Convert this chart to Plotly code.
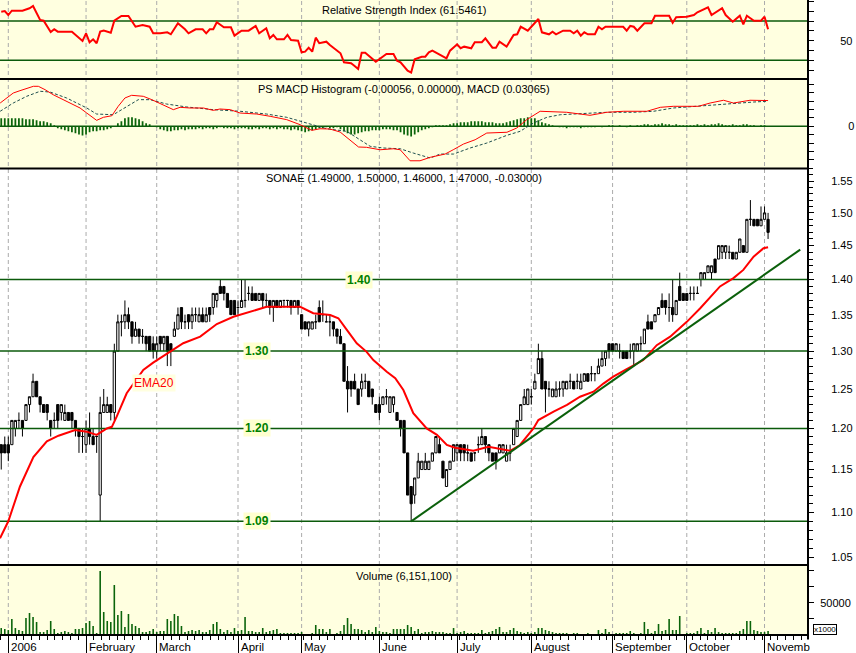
import numpy as np
import plotly.graph_objects as go

# ---------------- DATA ----------------
bar_index = list(range(-2, 216))   # trading-day index, 0 = first session of 2006

opens = [
 1.18,1.18,1.18,1.18,1.20,1.21,1.21,1.21,1.23,1.24,1.26,1.24,1.23,1.23,1.21,1.21,1.23,1.22,1.21,1.22,1.22,1.21,1.20,1.19,
 1.18,1.20,1.19,1.19,1.12,1.22,1.22,1.23,1.22,1.30,1.34,1.34,1.35,1.34,1.32,1.33,1.32,1.32,1.32,1.31,
 1.30,1.32,1.31,1.32,1.31,1.32,1.33,1.36,1.34,1.35,1.34,1.35,1.34,1.35,1.34,1.36,1.36,1.37,1.39,1.39,1.38,1.37,1.37,
 1.36,1.36,1.37,1.38,1.38,1.38,1.37,1.38,1.37,1.37,1.36,1.37,1.36,1.37,1.37,1.37,1.36,1.37,
 1.35,1.34,1.33,1.33,1.34,1.36,1.35,1.34,1.34,1.34,1.33,1.32,1.31,1.26,1.26,1.26,1.25,1.25,1.26,1.26,1.25,1.23,
 1.23,1.23,1.24,1.22,1.23,1.22,1.21,1.21,1.17,1.13,1.12,1.14,1.15,1.15,1.15,1.16,1.17,1.18,1.16,1.13,1.15,1.16,
 1.17,1.18,1.18,1.17,1.17,1.17,1.18,1.18,1.19,1.18,1.17,1.17,1.17,1.17,1.16,1.17,1.18,1.19,1.21,1.23,1.23,
 1.24,1.25,1.27,1.29,1.26,1.25,1.24,1.24,1.25,1.25,1.25,1.26,1.26,1.26,1.25,1.26,1.27,1.27,1.27,1.27,1.28,1.29,1.31,
 1.31,1.30,1.30,1.30,1.30,1.30,1.30,1.30,1.31,1.31,1.34,1.34,1.34,1.35,1.37,1.37,1.36,1.36,1.35,1.39,1.38,
 1.38,1.38,1.38,1.38,1.40,1.40,1.41,1.41,1.43,1.43,1.44,1.44,1.44,1.44,1.43,1.44,1.45,1.44,1.49,1.49,1.49,1.48,
 1.49,1.49]
highs = [
 1.18,1.19,1.19,1.21,1.21,1.22,1.21,1.23,1.24,1.27,1.26,1.24,1.23,1.23,1.21,1.22,1.23,1.23,1.23,1.22,1.22,1.21,1.20,1.20,
 1.21,1.22,1.20,1.19,1.24,1.25,1.24,1.23,1.31,1.35,1.35,1.37,1.36,1.34,1.34,1.33,1.33,1.32,1.32,1.32,
 1.32,1.32,1.32,1.32,1.31,1.34,1.36,1.36,1.35,1.35,1.36,1.36,1.36,1.36,1.36,1.36,1.38,1.38,1.40,1.39,1.38,1.37,1.37,
 1.37,1.40,1.40,1.39,1.39,1.38,1.38,1.38,1.38,1.37,1.37,1.37,1.37,1.37,1.37,1.37,1.37,1.37,
 1.35,1.34,1.34,1.34,1.35,1.37,1.37,1.35,1.35,1.34,1.33,1.33,1.31,1.28,1.26,1.27,1.25,1.27,1.27,1.26,1.25,1.23,
 1.24,1.24,1.25,1.24,1.24,1.22,1.21,1.21,1.17,1.13,1.14,1.17,1.16,1.17,1.16,1.17,1.19,1.19,1.16,1.15,1.16,1.18,
 1.18,1.18,1.18,1.18,1.17,1.17,1.19,1.20,1.19,1.18,1.17,1.17,1.18,1.18,1.18,1.18,1.20,1.21,1.23,1.25,1.25,
 1.25,1.27,1.31,1.30,1.26,1.26,1.25,1.26,1.26,1.26,1.26,1.27,1.26,1.27,1.27,1.27,1.27,1.28,1.27,1.29,1.30,1.30,1.31,
 1.31,1.31,1.31,1.30,1.30,1.31,1.31,1.31,1.32,1.33,1.35,1.34,1.35,1.36,1.38,1.37,1.38,1.40,1.37,1.41,1.38,
 1.38,1.39,1.39,1.39,1.41,1.41,1.42,1.42,1.43,1.45,1.45,1.45,1.45,1.44,1.44,1.46,1.45,1.49,1.52,1.49,1.49,1.51,
 1.51,1.50]
lows = [
 1.15,1.17,1.16,1.18,1.19,1.20,1.19,1.21,1.22,1.24,1.24,1.22,1.22,1.21,1.19,1.20,1.20,1.21,1.21,1.21,1.20,1.19,1.17,1.17,
 1.17,1.18,1.18,1.17,1.09,1.22,1.22,1.21,1.21,1.30,1.32,1.33,1.33,1.31,1.32,1.31,1.31,1.30,1.30,1.29,
 1.29,1.30,1.30,1.28,1.28,1.32,1.33,1.33,1.33,1.33,1.33,1.34,1.34,1.34,1.34,1.34,1.35,1.36,1.38,1.37,1.36,1.35,1.35,
 1.35,1.36,1.36,1.37,1.37,1.37,1.37,1.36,1.36,1.35,1.34,1.36,1.36,1.36,1.36,1.35,1.36,1.35,
 1.33,1.33,1.32,1.33,1.33,1.34,1.34,1.34,1.32,1.32,1.31,1.31,1.26,1.22,1.24,1.25,1.23,1.24,1.25,1.24,1.23,1.22,
 1.21,1.23,1.23,1.22,1.22,1.21,1.19,1.17,1.12,1.09,1.11,1.14,1.15,1.15,1.15,1.16,1.17,1.17,1.14,1.13,1.15,1.16,
 1.16,1.16,1.16,1.16,1.16,1.16,1.17,1.18,1.17,1.16,1.16,1.15,1.17,1.17,1.16,1.16,1.18,1.19,1.21,1.23,1.23,
 1.23,1.25,1.27,1.25,1.22,1.24,1.24,1.24,1.24,1.24,1.25,1.25,1.25,1.25,1.25,1.26,1.26,1.26,1.26,1.27,1.28,1.28,1.29,
 1.30,1.30,1.29,1.29,1.29,1.29,1.28,1.30,1.30,1.31,1.33,1.33,1.34,1.35,1.36,1.35,1.34,1.34,1.35,1.37,1.37,
 1.37,1.37,1.37,1.38,1.39,1.40,1.41,1.40,1.41,1.43,1.43,1.43,1.43,1.43,1.43,1.44,1.44,1.44,1.48,1.48,1.48,1.48,
 1.49,1.46]
closes = [
 1.17,1.17,1.17,1.21,1.21,1.21,1.20,1.23,1.24,1.26,1.24,1.23,1.22,1.22,1.20,1.21,1.21,1.23,1.22,1.21,1.21,1.20,1.19,1.19,
 1.20,1.19,1.18,1.19,1.22,1.23,1.23,1.22,1.30,1.34,1.34,1.35,1.34,1.32,1.33,1.32,1.32,1.31,1.30,1.30,
 1.31,1.31,1.32,1.30,1.30,1.33,1.35,1.34,1.34,1.34,1.35,1.35,1.35,1.34,1.35,1.35,1.38,1.38,1.38,1.38,1.36,1.35,1.35,
 1.36,1.37,1.37,1.38,1.37,1.37,1.38,1.37,1.37,1.36,1.37,1.36,1.37,1.37,1.37,1.36,1.37,1.36,
 1.33,1.33,1.34,1.34,1.34,1.34,1.35,1.34,1.34,1.33,1.32,1.31,1.26,1.25,1.25,1.25,1.23,1.26,1.26,1.24,1.24,1.22,
 1.22,1.24,1.24,1.24,1.24,1.21,1.20,1.17,1.12,1.11,1.14,1.16,1.16,1.16,1.16,1.17,1.19,1.17,1.14,1.15,1.16,1.18,
 1.18,1.17,1.17,1.17,1.16,1.17,1.18,1.19,1.18,1.17,1.16,1.16,1.18,1.18,1.17,1.17,1.20,1.21,1.23,1.24,1.25,
 1.24,1.26,1.29,1.25,1.25,1.25,1.25,1.25,1.25,1.26,1.26,1.26,1.25,1.26,1.26,1.27,1.26,1.27,1.27,1.28,1.29,1.30,1.30,
 1.30,1.31,1.30,1.29,1.29,1.30,1.31,1.31,1.31,1.33,1.33,1.33,1.35,1.36,1.36,1.36,1.36,1.35,1.37,1.37,1.37,
 1.37,1.38,1.38,1.38,1.41,1.41,1.42,1.42,1.41,1.45,1.45,1.45,1.44,1.43,1.44,1.46,1.44,1.49,1.49,1.48,1.48,1.49,
 1.50,1.47]

# volume, in thousands of shares
volume_k = [
 10800,9300,7700,24800,10800,7700,6200,26300,34100,27900,20100,4600,4600,7700,21700,9300,3100,4600,6200,4600,3100,9300,9300,10800,
 18600,21700,13900,3100,99100,35600,21700,20100,77400,31000,37200,12400,32500,17000,13900,10800,4600,4600,6200,9300,
 4600,6200,6200,24800,21700,32500,29400,13900,4600,6200,7700,6200,7700,4600,4600,7700,17000,20100,9300,4600,7700,4600,10800,
 6200,7700,27900,6200,6200,4600,4600,10800,4600,6200,7700,9300,3100,3100,3100,3100,3100,3100,
 4600,1500,1500,3100,15500,9300,9300,4600,9300,1500,3100,6200,15500,26300,17000,9300,9300,7700,4600,7700,4600,12400,
 6200,4600,4600,3100,9300,9300,9300,9300,15500,12400,6200,9300,3100,4600,4600,6200,4600,4600,4600,3100,3100,10800,
 3100,4600,6200,3100,3100,3100,3100,7700,3100,4600,6200,9300,12400,4600,4600,7700,10800,6200,4600,3100,4600,
 3100,4600,10800,10800,7700,6200,4600,3100,3100,3100,3100,1500,3100,3100,1500,1500,3100,1500,1500,7700,3100,9300,4600,
 1500,3100,3100,3100,3100,6200,3100,1500,3100,20100,9300,3100,6200,17000,6200,7700,24800,7700,7700,29400,1500,
 3100,3100,3100,6200,10800,3100,7700,4600,10800,4600,3100,3100,3100,3100,3100,6200,9300,21700,21700,7700,6200,4600,
 4600,6151]

macd_hist = [
 0.0096,0.0096,0.0096,0.0096,0.0096,0.0096,0.0096,0.0084,0.0084,0.0084,0.0072,0.006,0.006,0.0048,0.0036,0.0012,-0.0024,-0.0036,-0.0048,-0.006,-0.0072,-0.0084,-0.0096,-0.0108,
 -0.0096,-0.0072,-0.006,-0.006,-0.0048,-0.0048,-0.0036,-0.0024,0.0,0.0036,0.006,0.0096,0.0108,0.0108,0.0096,0.0084,0.006,0.0036,0.0024,0.0,
 -0.0012,-0.0036,-0.0048,-0.006,-0.006,-0.0048,-0.0048,-0.0036,-0.0048,-0.0036,-0.0036,-0.0036,-0.0024,-0.0036,-0.0024,-0.0024,-0.0036,-0.0024,-0.0012,-0.0024,-0.0024,-0.0024,-0.0036,
 -0.0024,-0.0024,-0.0024,-0.0036,-0.0036,-0.0024,-0.0036,-0.0024,-0.0024,-0.0036,-0.0024,-0.0036,-0.0024,-0.0036,-0.0036,-0.0048,-0.0036,-0.0048,
 -0.006,-0.0072,-0.006,-0.0048,-0.0036,-0.0024,-0.0024,-0.0012,-0.0024,-0.0024,-0.0012,-0.0036,-0.006,-0.0084,-0.0096,-0.0096,-0.0084,-0.0072,-0.006,-0.006,-0.0048,-0.0048,
 -0.0048,-0.0036,-0.0036,-0.0036,-0.0048,-0.0048,-0.0072,-0.0096,-0.0108,-0.012,-0.0096,-0.0072,-0.0048,-0.0036,-0.0024,-0.0012,0.0012,0.0012,0.0012,0.0012,0.0024,0.0036,
 0.0036,0.0048,0.0048,0.0048,0.006,0.006,0.006,0.006,0.0048,0.0048,0.0048,0.0036,0.0036,0.0036,0.0048,0.006,0.0072,0.0084,0.0096,0.0096,0.0108,
 0.0096,0.0096,0.0072,0.0048,0.0036,0.0024,0.0012,0.0,-0.0012,-0.0012,-0.0024,-0.0012,-0.0012,-0.0012,-0.0024,-0.0012,-0.0012,-0.0012,-0.0012,0.0,-0.0012,0.0,0.0012,
 0.0012,0.0,0.0012,0.0,-0.0012,0.0012,0.0,0.0012,0.0012,0.0024,0.0024,0.0012,0.0024,0.0024,0.0036,0.0024,0.0024,0.0012,0.0024,0.0012,0.0012,
 0.0012,0.0012,0.0012,0.0024,0.0012,0.0024,0.0012,0.0024,0.0024,0.0036,0.0024,0.0012,0.0012,0.0024,0.0012,0.0012,0.0024,0.0024,0.0012,0.0012,0.0,0.0012,
 0.0012,-0.00056]

ema_x = [-2.35,0,3.3,7.1,10.9,14.2,18.9,22.2,25,27.9,29.3,30.7,33.5,35.9,38.2,41,45.8,49.5,54.3,59,63.7,68.4,73.1,82.6,86.3,
         91.1,93.4,95.8,98.6,101.4,103.3,107.1,109.5,111.8,114.6,118.4,121.3,124.1,126.4,131.6,135.9,142,144.8,148.6,150,
         154.3,158.1,161.8,165.6,168.4,171.2,175,179.7,183.5,187.3,192,195.8,201.4,205.2,208,210.9,213.7,215]
ema_values = [1.071,1.090,1.130,1.165,1.184,1.191,1.198,1.196,1.192,1.200,1.202,1.215,1.2445,1.2595,1.275,1.2845,1.299,1.3106,
              1.3196,1.337,1.347,1.354,1.361,1.361,1.352,1.3495,1.345,1.329,1.3106,1.299,1.288,1.2726,1.264,1.2487,1.219,1.200,
              1.192,1.1796,1.1763,1.1726,1.1775,1.1726,1.1796,1.200,1.2105,1.221,1.2295,1.240,1.2465,1.257,1.266,1.276,1.288,
              1.308,1.3196,1.340,1.359,1.390,1.402,1.414,1.4335,1.446,1.4475]

rsi_x = [-2,-1,0,1,4,6,7,9,10,12,13,14,18,21,22,23,24,25,26,27,29,30,32,34,36,38,40,41,43,45,
         46,48,50,51,53,55,56,57,58,59,61,63,64,66,68,70,71,73,74,75,76,78,79,80,82,83,84,85,86,87,
         88,90,91,93,94,95,97,98,99,100,101,104,107,109,110,111,113,114,115,117,118,119,120,124,125,
         127,128,129,131,132,134,135,137,138,139,141,143,144,145,147,150,151,153,154,155,157,159,160,
         161,162,163,164,166,167,168,169,174,175,176,177,178,180,182,183,187,188,189,192,194,195,198,
         199,202,203,205,207,208,209,211,213,214,215]
rsi_values = [79.5,80.2,76.1,80.5,80.5,83,85.3,71.1,70.3,58.7,61.6,59.2,59.2,49.7,57.5,48.4,51.4,47.4,59.2,60.2,
              58.1,70.3,75.1,75.1,64.2,66,64.2,57.5,57.5,58.5,56.5,67.7,61.6,57.5,61.6,61.6,57.5,61.6,61.6,68.7,
              63.6,63.6,55.1,60.2,60.2,65,57.5,62.6,52.4,55.8,51.4,51.4,55.8,50.7,50,38.2,38.8,42.9,38.8,53.1,
              47.4,49,45.6,40.5,37.2,28,27,24.3,21.2,37.8,37.8,28.6,36.5,36.5,29.7,28,19.5,17.5,31.1,33.7,
              33.7,38.2,39.8,32.1,39.8,46.3,42.3,43.9,42.3,48.4,48.4,52.4,42.9,42.9,49,43.9,55.8,56.5,64.2,60.2,
              72.1,58.5,56.5,59.2,56.5,60.2,60.2,57.5,60.2,55.1,58.5,56.5,56.5,64.2,61.6,64.2,64.2,60.2,65,64.2,
              60.2,67.7,67.7,75.4,75.4,68.3,73.8,74.4,76.1,78.9,84,76.1,83,76.1,69.3,75.4,66.7,75.4,70.3,70.3,
              74.4,61.5461]

macd_x = [-2.3,-0.5,1.4,3.3,5.2,7.1,8.5,10.4,12.7,16.5,20.3,22.2,25,26.9,29.3,31.1,33,34.9,38.2,40.6,
          43.9,46.7,48.6,51.4,55.2,58,59.9,62.8,65.6,70.3,74.1,78.8,82.6,85.9,88.2,91,93.9,96.7,99.1,101.4,
          105.2,109,110.9,113.7,116.5,119.4,123.6,125.9,128.8,132.1,135.4,141.1,143.9,146.7,150.5,158,160.9,
          164.6,169.4,174.1,180.7,184.5,188.2,195.3,198.6,202.4,205.2,209.9,215]
macd_values = [0.0277,0.0337,0.0396,0.0424,0.0448,0.0476,0.0476,0.0436,0.0376,0.0298,
               0.0218,0.0158,0.0071,0.0107,0.0126,0.0238,0.0337,0.0369,0.0357,0.0317,
               0.0257,0.0198,0.0226,0.0218,0.0218,0.0190,0.0206,0.0198,0.0158,0.0146,
               0.0119,0.0079,0.0019,-0.0048,-0.0029,-0.0032,-0.0068,-0.0160,-0.0246,-0.0250,
               -0.0279,-0.0267,-0.0279,-0.0410,-0.0410,-0.0369,-0.0330,-0.0279,-0.0211,-0.0160,
               -0.0080,-0.0071,-0.0020,0.0079,0.0179,0.0167,0.0155,0.0131,0.0167,0.0179,
               0.0179,0.0226,0.0238,0.0238,0.0277,0.0310,0.0277,0.0310,0.03065]
signal_x = [-2.3,1.4,5.2,9,11.8,16.5,22.2,25,29.7,33.5,36.8,40.1,44.8,50.5,58,65.6,73.1,78.8,82.6,86.3,
            90.1,95.8,99.5,102.4,106.1,110.9,114.6,119.4,122.2,126,130.7,135.4,141.1,144.8,148.6,152.4,
            156.2,161.8,169.4,176.9,182.6,188.2,193.9,199.5,205.2,210.9,214.7]
signal_values = [0.0179,0.0277,0.0357,0.0417,0.0408,0.0337,0.0218,0.0146,0.0138,0.0238,
                 0.0317,0.0317,0.0265,0.0230,0.0198,0.0179,0.0146,0.0107,0.0060,0.0019,
                 -0.0029,-0.0060,-0.0160,-0.0238,-0.0258,-0.0267,-0.0318,-0.0377,-0.0330,-0.0330,
                 -0.0258,-0.0199,-0.0107,-0.0060,0.0039,0.0107,0.0138,0.0150,0.0167,0.0167,
                 0.0179,0.0218,0.0238,0.0257,0.0277,0.0289,0.0298]

trend_x = [114, 224.1]
trend_y = [1.09, 1.444]

levels = [1.09, 1.20, 1.30, 1.40]
level_labels = ["1.09", "1.20", "1.30", "1.40"]
level_label_x = [70.4, 70.4, 70.4, 99.1]

month_starts = [0, 22, 42, 65, 83, 105, 127, 148, 171, 192, 214]
month_labels = ["2006", "February", "March", "April", "May", "June", "July",
                "August", "September", "October", "Novemb"]

price_tick_vals = [1.05, 1.10, 1.15, 1.20, 1.25, 1.30, 1.35, 1.40, 1.45, 1.50, 1.55]
price_tick_text = ["1.05", "1.10", "1.15", "1.20", "1.25", "1.30", "1.35", "1.40", "1.45", "1.50", "1.55"]
price_minor_ticks = [round(1.04 + 0.01 * k, 2) for k in range(54)]
rsi_tick_vals = [20, 30, 40, 50, 60, 70, 80, 90]
rsi_tick_text = ["", "", "", "50", "", "", "", ""]
macd_tick_vals = [-0.04, -0.03, -0.02, -0.01, 0.0, 0.01, 0.02, 0.03, 0.04, 0.05]
macd_tick_text = ["", "", "", "", "0", "", "", "", "", ""]
vol_tick_vals = [25000, 50000, 75000, 100000]
vol_tick_text = ["", "50000", "", ""]

title_rsi = "Relative Strength Index (61.5461)"
title_macd = "PS MACD Histogram (-0.00056, 0.00000), MACD (0.03065)"
title_price = "SONAE (1.49000, 1.50000, 1.46000, 1.47000, -0.03000)"
title_volume = "Volume (6,151,100)"

# ---------------- GEOMETRY / STYLE ----------------
W, H = 856, 653
PLOT_H = 635.0
X_MIN, X_MAX = -2.35, 226.3
Y_RSI_BOT, Y_MACD_BOT, Y_MAIN_BOT = 79.0, 168.5, 565.0

def pf(ypx):
    return (PLOT_H - ypx) / PLOT_H

FONT = "Liberation Sans, Arial, sans-serif"
PANEL_BG = "#FFFFE0"
GREEN_LINE = "#0B5A0B"
BAR_GREEN = "#0A640A"
RED = "#FF0000"

fig = go.Figure()

# Candles
fig.add_trace(go.Candlestick(
    x=bar_index, open=opens, high=highs, low=lows, close=closes,
    increasing=dict(line=dict(color="black", width=1), fillcolor="white"),
    decreasing=dict(line=dict(color="black", width=1), fillcolor="black"),
    whiskerwidth=0, xaxis="x", yaxis="y", showlegend=False, hoverinfo="skip"))

# Horizontal level lines in the price panel
for lv in levels:
    fig.add_trace(go.Scatter(x=[X_MIN, X_MAX], y=[lv, lv], mode="lines",
                             line=dict(color=GREEN_LINE, width=1.5),
                             xaxis="x", yaxis="y", showlegend=False, hoverinfo="skip"))

# EMA and trendline
fig.add_trace(go.Scatter(x=ema_x, y=ema_values, mode="lines", line=dict(color=RED, width=2),
                         xaxis="x", yaxis="y", showlegend=False, hoverinfo="skip"))
fig.add_trace(go.Scatter(x=trend_x, y=trend_y, mode="lines", line=dict(color="#0B600B", width=2),
                         xaxis="x", yaxis="y", showlegend=False, hoverinfo="skip"))

# RSI
fig.add_trace(go.Scatter(x=rsi_x, y=rsi_values, mode="lines", line=dict(color=RED, width=2),
                         xaxis="x", yaxis="y2", showlegend=False, hoverinfo="skip"))

# MACD
fig.add_trace(go.Bar(x=bar_index, y=macd_hist, width=0.5, marker=dict(color=BAR_GREEN, line=dict(width=0)),
                     xaxis="x", yaxis="y3", showlegend=False, hoverinfo="skip"))
fig.add_trace(go.Scatter(x=signal_x, y=signal_values, mode="lines",
                         line=dict(color="#1E4E4E", width=1, dash="3px,2px"),
                         xaxis="x", yaxis="y3", showlegend=False, hoverinfo="skip"))
fig.add_trace(go.Scatter(x=macd_x, y=macd_values, mode="lines", line=dict(color=RED, width=1),
                         xaxis="x", yaxis="y3", showlegend=False, hoverinfo="skip"))

# Volume
fig.add_trace(go.Bar(x=bar_index, y=volume_k, width=0.45, marker=dict(color=BAR_GREEN, line=dict(width=0)),
                     xaxis="x", yaxis="y4", showlegend=False, hoverinfo="skip"))

shapes = []
for top, bot in [(0, Y_RSI_BOT), (Y_RSI_BOT, Y_MACD_BOT), (Y_MAIN_BOT, PLOT_H)]:
    shapes.append(dict(type="rect", xref="paper", yref="paper", x0=0, x1=1, y0=pf(bot), y1=pf(top),
                       fillcolor=PANEL_BG, line=dict(width=0), layer="below"))
for m in month_starts:
    shapes.append(dict(type="line", xref="x", yref="paper", x0=m, x1=m, y0=0, y1=1,
                       line=dict(color="#ABABAB", width=1, dash="4px,3px"), layer="below"))
for lv in [70, 30]:
    shapes.append(dict(type="line", xref="paper", yref="y2", x0=0, x1=1, y0=lv, y1=lv,
                       line=dict(color=GREEN_LINE, width=1.5), layer="below"))
shapes.append(dict(type="line", xref="paper", yref="y3", x0=0, x1=1, y0=0, y1=0,
                   line=dict(color=GREEN_LINE, width=1.5), layer="below"))
for ypx in [Y_RSI_BOT, Y_MACD_BOT, Y_MAIN_BOT, PLOT_H]:
    shapes.append(dict(type="line", xref="paper", yref="paper", x0=0, x1=1, y0=pf(ypx), y1=pf(ypx),
                       line=dict(color="black", width=2), layer="above"))
shapes.append(dict(type="line", xref="paper", yref="paper", x0=1, x1=1, y0=-0.007, y1=1,
                   line=dict(color="black", width=2), layer="above"))

annotations = []
for txt, ypx in [(title_rsi, 10.5), (title_macd, 89), (title_price, 178), (title_volume, 576)]:
    annotations.append(dict(text=txt, xref="paper", yref="paper", x=0.5, y=pf(ypx),
                            xanchor="center", yanchor="middle", showarrow=False,
                            font=dict(family=FONT, size=11, color="black")))
for m, lab in zip(month_starts, month_labels):
    annotations.append(dict(text=lab, xref="x", yref="paper", x=m + 0.15, y=pf(647),
                            xanchor="left", yanchor="middle", showarrow=False,
                            font=dict(family=FONT, size=11.5, color="black")))
for lv, lab, lx in zip(levels, level_labels, level_label_x):
    annotations.append(dict(text=lab, xref="x", yref="y", x=lx, y=np.log10(lv),
                            xanchor="center", yanchor="middle", showarrow=False,
                            bgcolor="#FFFFD0", borderpad=1,
                            font=dict(family=FONT, size=12, color="#008000", weight="bold")))
annotations.append(dict(text="EMA20", xref="x", yref="y", x=41.2, y=np.log10(1.258),
                        xanchor="center", yanchor="middle", showarrow=False,
                        bgcolor="#FFFFE0", borderpad=1,
                        font=dict(family=FONT, size=12, color=RED)))
annotations.append(dict(text="x1000", xref="paper", yref="paper", x=(824.5) / 808.0, y=pf(629.5),
                        xanchor="center", yanchor="middle", showarrow=False,
                        bgcolor="white", bordercolor="black", borderwidth=1, borderpad=0,
                        font=dict(family=FONT, size=8, color="black")))

axis_common = dict(side="right", anchor="x", showgrid=False, zeroline=False, showline=False,
                   ticks="outside", ticklen=5, tickwidth=1, tickcolor="black",
                   tickfont=dict(family=FONT, size=11, color="black"), automargin=False,
                   fixedrange=True, tickmode="array")

fig.update_layout(
    width=W, height=H, template="none",
    margin=dict(l=0, r=48, t=0, b=18, pad=0),
    paper_bgcolor="white", plot_bgcolor="white",
    font=dict(family=FONT, size=12, color="black"),
    showlegend=False, hovermode=False, boxgap=0.1,
    xaxis=dict(domain=[0, 1], range=[X_MIN, X_MAX], anchor="y4", tickmode="array",
               tickvals=month_starts, ticktext=[""] * len(month_starts),
               ticks="outside", ticklen=18, tickwidth=1, tickcolor="black",
               showgrid=False, zeroline=False, showline=False, automargin=False,
               rangeslider=dict(visible=False), fixedrange=True,
               minor=dict(ticks="outside", ticklen=4, tickwidth=1, tickcolor="black",
                          tickmode="linear", tick0=0, dtick=2.2, showgrid=False)),
    yaxis=dict(domain=[pf(Y_MAIN_BOT), pf(Y_MACD_BOT)], type="log",
               range=[np.log10(1.0418), np.log10(1.5705)],
               tickvals=price_tick_vals, ticktext=price_tick_text, ticklabelstandoff=15,
               minor=dict(tickmode="array", tickvals=price_minor_ticks, ticks="outside",
                          ticklen=4, tickcolor="black", showgrid=False),
               **axis_common),
    yaxis2=dict(domain=[pf(Y_RSI_BOT), 1], range=[11, 91.4],
                tickvals=rsi_tick_vals, ticktext=rsi_tick_text, ticklabelstandoff=24,
                **axis_common),
    yaxis3=dict(domain=[pf(Y_MACD_BOT), pf(Y_RSI_BOT)], range=[-0.0502, 0.0563],
                tickvals=macd_tick_vals, ticktext=macd_tick_text, ticklabelstandoff=32,
                **axis_common),
    yaxis4=dict(domain=[0, pf(Y_MAIN_BOT)], range=[0, 108400],
                tickvals=vol_tick_vals, ticktext=vol_tick_text, ticklabelstandoff=4,
                **axis_common),
    shapes=shapes, annotations=annotations,
)

fig.write_html("out.html", config={"staticPlot": True},
               post_script="document.body.style.margin='0';document.body.style.padding='0';")
